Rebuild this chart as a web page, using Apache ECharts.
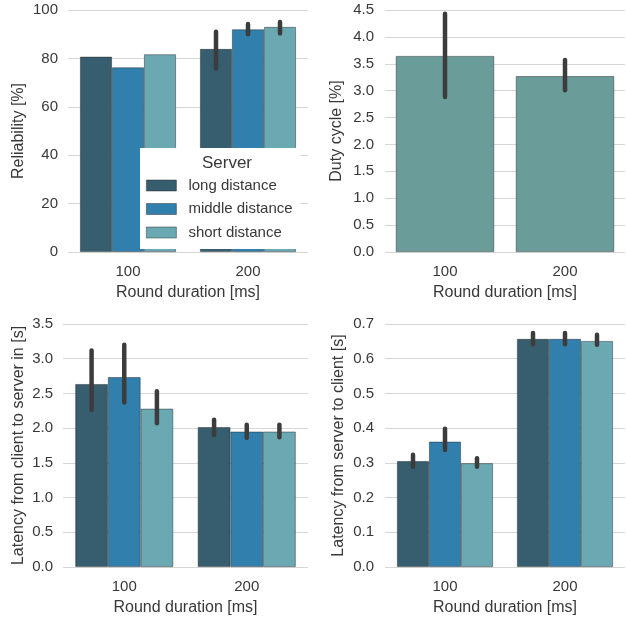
<!DOCTYPE html>
<html><head><meta charset="utf-8">
<script src="https://cdn.jsdelivr.net/npm/echarts@6/dist/echarts.min.js"></script>
<style>html,body{margin:0;padding:0;background:#fff}#c{width:626px;height:621px}</style>
</head><body><div id="c"></div>
<script>
const categories = ['100', '200'];
const servers = ['long distance', 'middle distance', 'short distance'];
const serverColors = ['#365e6f', '#317fad', '#6aa8b2'];

// Reliability [%]
const relLong = [80.7, 83.9];
const relMiddle = [76.3, 92.0];
const relShort = [81.7, 93.0];
const relLongErr = [null, [75.9, 91.0]];
const relMiddleErr = [null, [90.0, 94.2]];
const relShortErr = [null, [90.3, 95.0]];

// Duty cycle [%]
const duty = [3.645, 3.27];
const dutyErr = [[2.88, 4.43], [3.01, 3.57]];

// Latency client -> server [s]
const c2sLong = [2.635, 2.015];
const c2sMiddle = [2.735, 1.95];
const c2sShort = [2.28, 1.95];
const c2sLongErr = [[2.26, 3.12], [1.90, 2.12]];
const c2sMiddleErr = [[2.37, 3.20], [1.86, 2.05]];
const c2sShortErr = [[2.07, 2.53], [1.87, 2.05]];

// Latency server -> client [s]
const s2cLong = [0.305, 0.657];
const s2cMiddle = [0.361, 0.657];
const s2cShort = [0.299, 0.651];
const s2cLongErr = [[0.289, 0.323], [0.642, 0.674]];
const s2cMiddleErr = [[0.337, 0.398], [0.642, 0.674]];
const s2cShortErr = [[0.289, 0.313], [0.640, 0.669]];

const FONT = 'Liberation Sans';
const TXT = '#383838';

function errSeries(idx, errs, gridIdx, nSeries) {
  const data = [];
  errs.forEach((e, i) => { if (e) data.push([i, e[0], e[1]]); });
  return {
    type: 'custom', xAxisIndex: gridIdx, yAxisIndex: gridIdx, z: 5,
    silent: true,
    renderItem: function (params, api) {
      const band = api.size([1, 0])[0];
      const bw = band * 0.8 / nSeries;
      const off = (idx - (nSeries - 1) / 2) * bw;
      const p1 = api.coord([api.value(0), api.value(1)]);
      const p2 = api.coord([api.value(0), api.value(2)]);
      return {
        type: 'line',
        shape: { x1: p1[0] + off, y1: p1[1], x2: p2[0] + off, y2: p2[1] },
        style: { stroke: '#3c3c3c', lineWidth: 4.5, lineCap: 'round' }
      };
    },
    data: data
  };
}

function barSeries(name, data, color, gridIdx) {
  return {
    name: name, type: 'bar', xAxisIndex: gridIdx, yAxisIndex: gridIdx,
    data: data, barGap: '0%', barCategoryGap: '20%',
    itemStyle: { color: color, borderColor: 'rgba(30,30,30,0.55)', borderWidth: 0.8 }
  };
}

const grids = [
  { left: 68, top: 10, width: 240, height: 242 },
  { left: 385, top: 10, width: 240, height: 242 },
  { left: 63, top: 324, width: 245, height: 243 },
  { left: 385, top: 324, width: 240, height: 243 }
];
const yDefs = [
  { name: 'Reliability [%]', min: 0, max: 100, interval: 20, dec: 0, gap: 41, m: 10 },
  { name: 'Duty cycle [%]', min: 0, max: 4.5, interval: 0.5, dec: 1, gap: 40, m: 11 },
  { name: 'Latency from client to server in [s]', min: 0, max: 3.5, interval: 0.5, dec: 1, gap: 36, m: 10 },
  { name: 'Latency from server to client [s]', min: 0, max: 0.7, interval: 0.1, dec: 1, gap: 38, m: 11 }
];

const xAxes = grids.map((g, i) => ({
  type: 'category', gridIndex: i, data: categories,
  name: 'Round duration [ms]', nameLocation: 'middle', nameGap: 33,
  nameTextStyle: { fontFamily: FONT, fontSize: 16, color: TXT },
  axisLine: { show: false }, axisTick: { show: false },
  axisLabel: { fontFamily: FONT, fontSize: 15, color: TXT, margin: 12 }
}));
const yAxes = yDefs.map((d, i) => ({
  type: 'value', gridIndex: i, min: d.min, max: d.max, interval: d.interval,
  name: d.name, nameLocation: 'middle', nameGap: d.gap, nameRotate: 90,
  nameTextStyle: { fontFamily: FONT, fontSize: 16, color: TXT },
  axisLine: { show: false }, axisTick: { show: false },
  axisLabel: { fontFamily: FONT, fontSize: 15, color: TXT, margin: d.m,
    formatter: v => v.toFixed(d.dec) },
  splitLine: { lineStyle: { color: '#d6d6d6', width: 1 } }
}));

const series = [];
[[relLong, relMiddle, relShort, relLongErr, relMiddleErr, relShortErr, 0],
 [c2sLong, c2sMiddle, c2sShort, c2sLongErr, c2sMiddleErr, c2sShortErr, 2],
 [s2cLong, s2cMiddle, s2cShort, s2cLongErr, s2cMiddleErr, s2cShortErr, 3]].forEach(p => {
  const g = p[6];
  for (let k = 0; k < 3; k++) series.push(barSeries(servers[k], p[k], serverColors[k], g));
  for (let k = 0; k < 3; k++) series.push(errSeries(k, p[3 + k], g, 3));
});
series.push({
  name: 'Duty cycle', type: 'bar', xAxisIndex: 1, yAxisIndex: 1, data: duty,
  barCategoryGap: '18%',
  itemStyle: { color: '#6a9c9a', borderColor: 'rgba(30,30,30,0.55)', borderWidth: 0.8 }
});
series.push(errSeries(0, dutyErr, 1, 1));

const chart = echarts.init(document.getElementById('c'), null, { renderer: 'canvas' });
chart.setOption({
  animation: false,
  backgroundColor: '#fff',
  grid: grids,
  xAxis: xAxes,
  yAxis: yAxes,
  title: {
    text: 'Server', left: 222, top: 150, textAlign: 'center', z: 20,
    textStyle: { fontFamily: FONT, fontSize: 17, fontWeight: 'normal', color: TXT }
  },
  legend: {
    data: servers, orient: 'vertical', left: 140, top: 148, z: 10,
    backgroundColor: '#fff', padding: [30, 8, 9, 6],
    itemWidth: 30, itemHeight: 11, itemGap: 8.5,
    icon: 'rect',
    itemStyle: { borderColor: 'rgba(30,30,30,0.55)', borderWidth: 0.8 },
    textStyle: { fontFamily: FONT, fontSize: 15, color: TXT, padding: [0, 0, 0, 7] },
    selectedMode: false
  },
  series: series
});
</script></body></html>
